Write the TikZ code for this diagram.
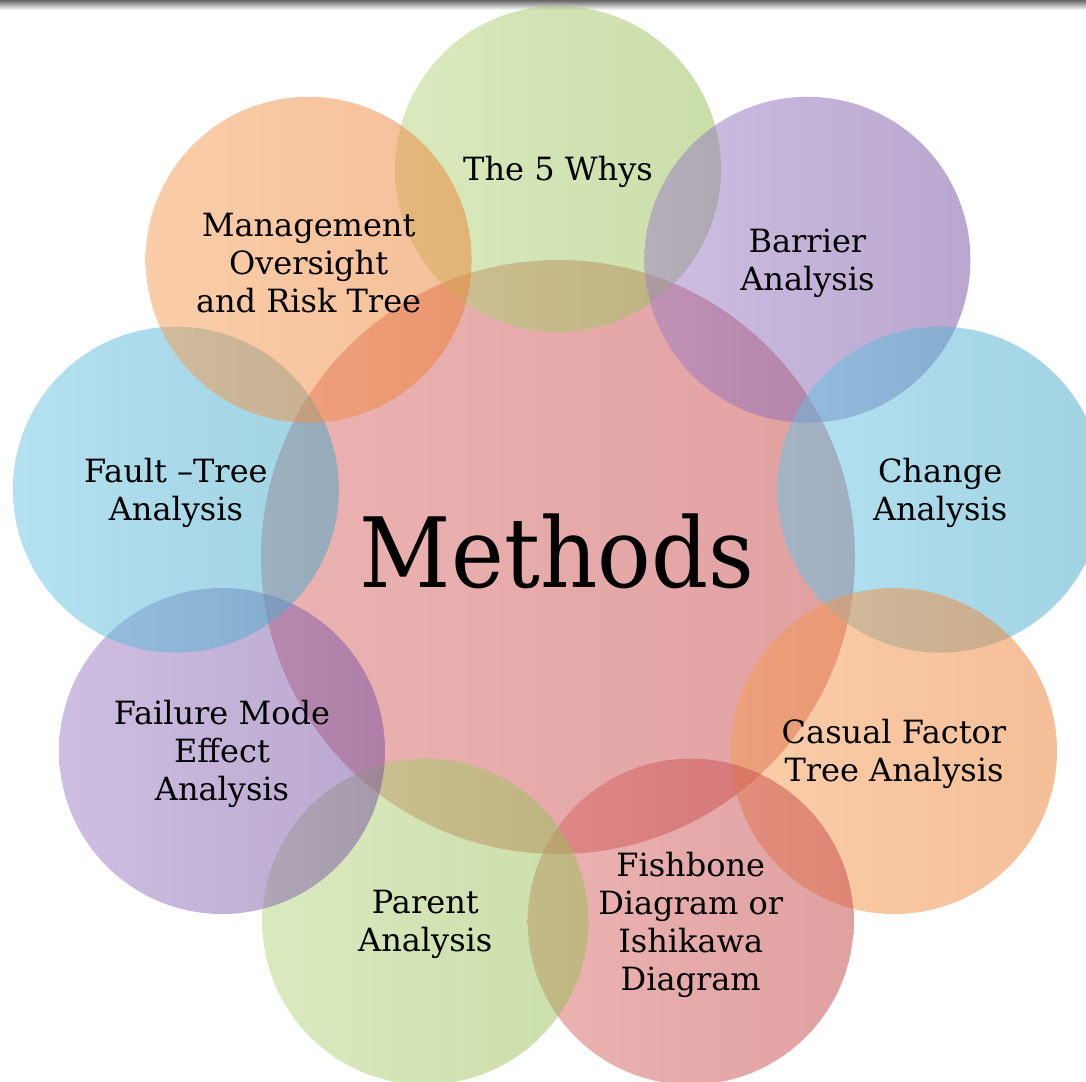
\documentclass[tikz,border=0pt]{standalone}
\usepackage{fontspec}
\setmainfont{DejaVu Serif}
\definecolor{gL}{RGB}{182,214,128}
\definecolor{gR}{RGB}{150,190,85}
\definecolor{pL}{RGB}{158,128,198}
\definecolor{pR}{RGB}{118,80,160}
\definecolor{bL}{RGB}{105,197,228}
\definecolor{bR}{RGB}{68,168,198}
\definecolor{oL}{RGB}{246,158,84}
\definecolor{oR}{RGB}{236,128,50}
\definecolor{rL}{RGB}{218,104,104}
\definecolor{rR}{RGB}{195,68,68}
\begin{document}
\begin{tikzpicture}[x=1pt,y=-1pt,
  bubble/.style={circle, minimum size=326pt, inner sep=0pt, fill opacity=0.5, draw=none},
  green/.style={bubble, left color=gL, right color=gR},
  purple/.style={bubble, left color=pL, right color=pR},
  blue/.style={bubble, left color=bL, right color=bR},
  orange/.style={bubble, left color=oL, right color=oR},
  red/.style={bubble, left color=rL, right color=rR},
  lbl/.style={align=center, text=black, inner sep=0pt, yshift=-3pt, font=\fontsize{32}{38}\selectfont}]
\useasboundingbox (0,0) rectangle (1086,1081);
\fill[white] (0,0) rectangle (1086,1081);
\shade[top color=black!60, bottom color=white] (0,0) rectangle (1086,10);
% central
\node[bubble, minimum size=594pt, left color=rL, right color=rR] (methods) at (558,557) {};
% outer ring, clockwise from top
\node[green]  (why)     at (558,169) {};
\node[purple] (barrier) at (807.4,259.8) {};
\node[blue]   (change)  at (940.1,489.6) {};
\node[orange] (casual)  at (894,751) {};
\node[red]    (fish)    at (690.7,921.6) {};
\node[green]  (parent)  at (425.3,921.6) {};
\node[purple] (failure) at (222,751) {};
\node[blue]   (fault)   at (175.9,489.6) {};
\node[orange] (mgmt)    at (308.6,259.8) {};
% labels
\node[anchor=base, inner sep=0pt, font=\fontsize{97}{110}\selectfont, xscale=0.92] (methodsT) at (557,587) {Methods};
\node[lbl] (whyT)     at (why)     {The 5 Whys};
\node[lbl] (barrierT) at (barrier) {Barrier\\Analysis};
\node[lbl] (changeT)  at (change)  {Change\\Analysis};
\node[lbl] (casualT)  at (casual)  {Casual Factor\\Tree Analysis};
\node[lbl] (fishT)    at (fish)    {Fishbone\\Diagram or\\Ishikawa\\Diagram};
\node[lbl] (parentT)  at (parent)  {Parent\\Analysis};
\node[lbl] (failureT) at (failure) {Failure Mode\\Effect\\Analysis};
\node[lbl] (faultT)   at (fault)   {Fault –Tree\\Analysis};
\node[lbl] (mgmtT)    at (mgmt)    {Management\\Oversight\\and Risk Tree};
\end{tikzpicture}
\end{document}
